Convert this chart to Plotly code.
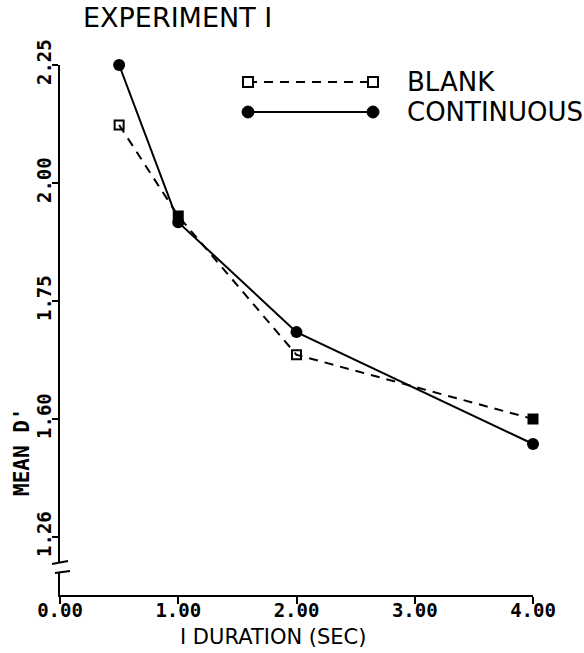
import plotly.graph_objects as go

# ---- data ----
duration = [0.5, 1.0, 2.0, 4.0]
blank = [2.123, 1.93, 1.636, 1.50]
continuous = [2.25, 1.917, 1.684, 1.447]

x_tickvals = [0, 1, 2, 3, 4]
x_ticktext = ["0.00", "1.00", "2.00", "3.00", "4.00"]
y_tickvals = [1.25, 1.50, 1.75, 2.00, 2.25]
y_ticktext = ["1.26", "1.60", "1.75", "2.00", "2.25"]

W, H = 584, 653
L, R, T, B = 60, 51, 65, 58
PW, PH = W - L - R, H - T - B
YMIN, YMAX = 1.127, 2.25

def px2px(px):
    return (px - L) / PW

def py2py(py):
    return (H - B - py) / PH

def py2val(py):
    return YMAX - (py - T) * (YMAX - YMIN) / PH

fig = go.Figure()

fig.add_trace(go.Scatter(
    x=duration, y=blank, mode="lines+markers", name="BLANK",
    line=dict(color="black", width=2, dash="9px,7px"),
    marker=dict(symbol=["square-open", "square", "square-open", "square"],
                size=9, color="black", line=dict(color="black", width=2)),
    cliponaxis=False, showlegend=False))

fig.add_trace(go.Scatter(
    x=duration, y=continuous, mode="lines+markers", name="CONTINUOUS",
    line=dict(color="black", width=2),
    marker=dict(symbol="circle", size=12, color="black"),
    cliponaxis=False, showlegend=False))

tickfont = dict(family="DejaVu Sans Mono", size=19, color="black", weight="bold")

fig.update_xaxes(range=[0, 4], tickvals=x_tickvals, ticktext=x_ticktext,
                 showline=True, linecolor="black", linewidth=2,
                 ticks="outside", ticklen=7, tickwidth=2, tickcolor="black",
                 ticklabelstandoff=-10,
                 showgrid=False, zeroline=False, tickfont=tickfont)
fig.update_yaxes(range=[YMIN, YMAX], tickvals=y_tickvals, ticktext=y_ticktext,
                 showline=True, linecolor="black", linewidth=2,
                 ticks="outside", ticklen=6, tickwidth=2, tickcolor="black",
                 ticklabelstandoff=-7,
                 showgrid=False, zeroline=False, tickfont=tickfont, tickangle=-90)

shapes = []
# axis break
shapes.append(dict(type="rect", xref="paper", yref="y",
                   x0=px2px(54), x1=px2px(66), y0=py2val(572), y1=py2val(562),
                   fillcolor="white", line=dict(width=0), layer="above"))
shapes.append(dict(type="line", xref="paper", yref="y",
                   x0=px2px(52), x1=px2px(68), y0=py2val(564), y1=py2val(561),
                   line=dict(color="black", width=2), layer="above"))
shapes.append(dict(type="line", xref="paper", yref="y",
                   x0=px2px(55), x1=px2px(70), y0=py2val(573), y1=py2val(571),
                   line=dict(color="black", width=2), layer="above"))

# legend samples
for ypx, dash, sym in [(82, "9px,7px", "square"), (112, "solid", "circle")]:
    yp = py2py(ypx)
    shapes.append(dict(type="line", xref="paper", yref="paper",
                       x0=px2px(248), x1=px2px(373), y0=yp, y1=yp,
                       line=dict(color="black", width=2, dash=dash)))
    for xpx in (248, 373):
        if sym == "square":
            shapes.append(dict(type="rect", xref="paper", yref="paper",
                               xsizemode="pixel", ysizemode="pixel",
                               xanchor=px2px(xpx), yanchor=yp,
                               x0=-5, x1=5, y0=-5, y1=5,
                               fillcolor="white", line=dict(color="black", width=2)))
        else:
            shapes.append(dict(type="circle", xref="paper", yref="paper",
                               xsizemode="pixel", ysizemode="pixel",
                               xanchor=px2px(xpx), yanchor=yp,
                               x0=-6, x1=6, y0=-6, y1=6,
                               fillcolor="black", line=dict(color="black", width=1)))

annotations = [
    dict(text="BLANK", xref="paper", yref="paper", x=px2px(405), y=py2py(82),
         xanchor="left", yanchor="middle", showarrow=False,
         font=dict(family="DejaVu Sans", size=26, color="black")),
    dict(text="CONTINUOUS", xref="paper", yref="paper", x=px2px(405), y=py2py(112),
         xanchor="left", yanchor="middle", showarrow=False,
         font=dict(family="DejaVu Sans", size=26, color="black")),
    dict(text="MEAN D'", xref="paper", yref="paper", x=px2px(22), y=py2py(452),
         xanchor="center", yanchor="middle", showarrow=False, textangle=-90,
         font=dict(family="DejaVu Sans Mono", size=21, color="black", weight="bold")),
    dict(text="I DURATION (SEC)", xref="paper", yref="paper", x=px2px(273), y=py2py(637),
         xanchor="center", yanchor="middle", showarrow=False,
         font=dict(family="DejaVu Sans", size=21, color="black")),
]

fig.update_layout(
    width=W, height=H,
    margin=dict(l=L, r=R, t=T, b=B),
    paper_bgcolor="white", plot_bgcolor="white",
    title=dict(text="EXPERIMENT I", x=83 / W, xanchor="left", xref="container",
               y=1 - 18 / H, yanchor="middle", yref="container",
               font=dict(family="DejaVu Sans", size=27, color="black")),
    shapes=shapes, annotations=annotations,
)

fig.write_html("out.html")
